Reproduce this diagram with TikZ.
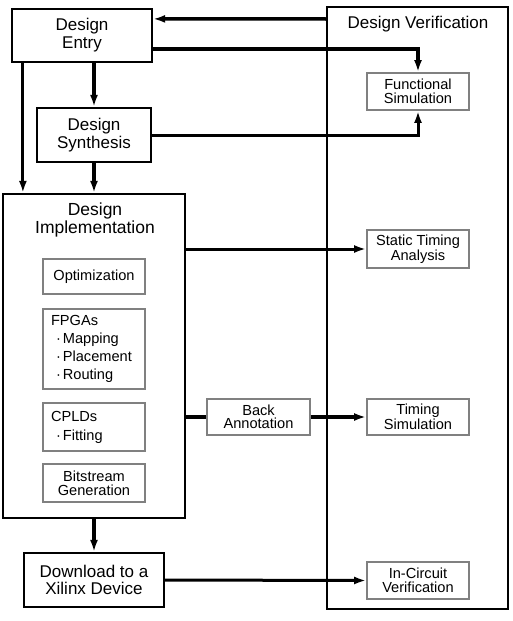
\documentclass[tikz,border=0pt]{standalone}
\usepackage{fontspec}
\setmainfont{Liberation Sans}
\usetikzlibrary{arrows.meta}
\definecolor{boxgray}{RGB}{128,128,128}

\newcommand{\fbul}{\hspace*{5pt}\textperiodcentered\hspace{2pt}}

\tikzset{
 bigbox/.style={draw, line width=2.2pt, align=center, inner sep=0pt, font=\fontsize{17}{18}\selectfont},
 subbox/.style={draw=boxgray, line width=1.8pt, align=center, inner sep=0pt, minimum width=102pt, font=\fontsize{14.6}{13.5}\selectfont},
 headtext/.style={align=center, inner sep=0pt, font=\fontsize{17}{18}\selectfont},
 flow/.style={line width=3pt, -{Latex[length=12pt,width=8pt]}},
}

\begin{document}
\begin{tikzpicture}[x=1pt,y=-1pt]
\useasboundingbox (0,0) rectangle (513,621);

 %verification column
 \node[bigbox, line width=2pt, minimum width=181pt, minimum height=602pt] (verif) at (417.5,308) {};
 \node[headtext] (veriftitle) at (418,24.5) {Design Verification};
 \node[subbox, minimum height=37pt] (funsim) at (418,91.5) {Functional\\Simulation};
 \node[subbox, minimum height=38pt] (sta) at (418,249) {Static Timing\\Analysis};
 \node[subbox, minimum height=36pt] (tsim) at (418,417) {Timing\\Simulation};
 \node[subbox, minimum height=37pt] (incv) at (418,580.5) {In-Circuit\\Verification};

 %design flow
 \node[bigbox, minimum width=140pt, minimum height=53pt] (entry) at (82,35.5) {Design\\Entry};
 \node[bigbox, minimum width=114pt, minimum height=54pt] (synth) at (94,135) {Design\\Synthesis};
 \node[bigbox, minimum width=182pt, minimum height=324pt] (impl) at (94,356) {};
 \node[headtext, font=\fontsize{17.5}{16}\selectfont] (impltitle) at (95,220) {Design\\Implementation};
 \node[subbox, minimum height=35pt] (optim) at (94,276.5) {Optimization};
 \node[subbox, minimum height=80pt, align=left, text width=86pt, font=\fontsize{14.6}{18}\selectfont] (fpga) at (94,349)
  {FPGAs\\ \fbul Mapping\\ \fbul Placement\\ \fbul Routing};
 \node[subbox, minimum height=48pt, align=left, text width=86pt, font=\fontsize{14.6}{19}\selectfont] (cpld) at (94,427)
  {CPLDs\\ \fbul Fitting};
 \node[subbox, minimum height=38pt, font=\fontsize{14.6}{14}\selectfont] (bits) at (94,483) {Bitstream\\Generation};
 \node[bigbox, minimum width=140pt, minimum height=54pt, font=\fontsize{17}{17}\selectfont] (dload) at (94,580) {Download to a\\Xilinx Device};
 \node[subbox, minimum width=103pt, minimum height=36pt] (back) at (258.5,417) {Back\\Annotation};

 %connections
 \coordinate (ldrop) at ([xshift=12pt]entry.south west);
 \draw[flow, line width=3.5pt] ([yshift=-13pt]verif.north west) -- ([yshift=-11pt]entry.north east);
 \draw[flow, line width=3.5pt] ([yshift=-13.5pt]entry.east) -| (funsim.north);
 \draw[flow] (synth.east) -| (funsim.south);
 \draw[flow, line width=3.8pt] (entry.south -| synth.north) -- (synth.north);
 \draw[flow] (ldrop) -- (ldrop |- impl.north);
 \draw[flow, line width=3.5pt] (synth.south) -- (impl.north);
 \draw[flow] (impl.east |- sta.west) -- (sta.west);
 \draw[line width=4pt] (impl.east |- back.west) -- (back.west);
 \draw[flow, line width=4pt] (back.east) -- (tsim.west);
 \draw[flow, line width=3.5pt] (impl.south) -- (dload.north);
 \draw[flow] (dload.east) -- (incv.west);

\end{tikzpicture}
\end{document}
